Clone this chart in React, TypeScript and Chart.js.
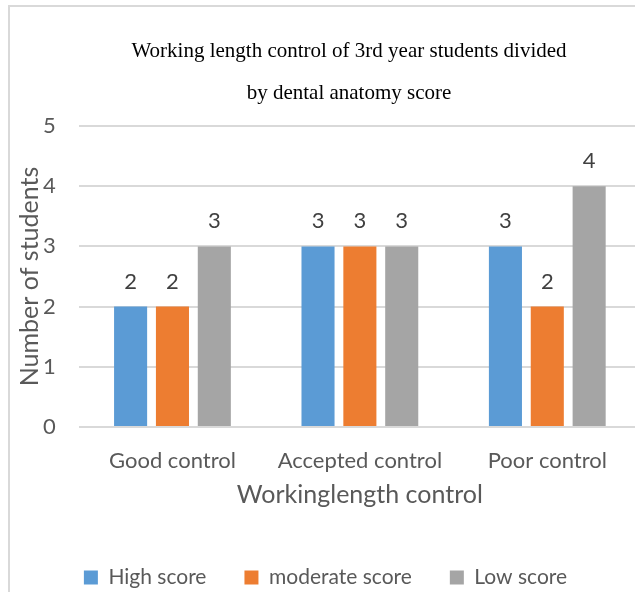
import React, { useEffect, useRef } from "react";
import { Chart, registerables } from "chart.js";

Chart.register(...registerables);

const categories = ["Good control", "Accepted control", "Poor control"];
const seriesNames = ["High score", "moderate score", "Low score"];
const highScore = [2, 3, 3];
const moderateScore = [2, 3, 2];
const lowScore = [3, 3, 4];
const seriesColors = ["#5B9BD5", "#ED7D31", "#A5A5A5"];
const yMin = 0;
const yMax = 5;
const yStep = 1;
const titleLines = [
  "Working length control of 3rd year students divided",
  "by dental anatomy score",
];
const xAxisTitle = "Workinglength control";
const yAxisTitle = "Number of students";

const FONT = "Lato, 'Noto Sans', sans-serif";
const TEXT = "#595959";

const titlePlugin = {
  id: "twoLineTitle",
  afterDraw(chart: any) {
    const ctx = chart.ctx;
    ctx.save();
    ctx.font = "21px 'Liberation Serif', 'Times New Roman', serif";
    ctx.fillStyle = "#000000";
    ctx.textAlign = "center";
    ctx.textBaseline = "alphabetic";
    titleLines.forEach((t, i) => ctx.fillText(t, 349, 57 + i * 42));
    ctx.restore();
  },
};

const valueLabelPlugin = {
  id: "valueLabels",
  afterDatasetsDraw(chart: any) {
    const ctx = chart.ctx;
    ctx.save();
    ctx.font = `22px ${FONT}`;
    ctx.fillStyle = "#404040";
    ctx.textAlign = "center";
    ctx.textBaseline = "alphabetic";
    chart.data.datasets.forEach((ds: any, di: number) => {
      const meta = chart.getDatasetMeta(di);
      meta.data.forEach((bar: any, i: number) => {
        ctx.fillText(String(ds.data[i]), bar.x, bar.y - 18);
      });
    });
    ctx.restore();
  },
};

export default function App() {
  const ref = useRef<HTMLCanvasElement | null>(null);

  useEffect(() => {
    if (!ref.current) return;
    const values = [highScore, moderateScore, lowScore];
    const chart = new Chart(ref.current, {
      type: "bar",
      data: {
        labels: categories,
        datasets: seriesNames.map((name, i) => ({
          label: name,
          data: values[i],
          backgroundColor: seriesColors[i],
          borderWidth: 0,
          barPercentage: 0.79,
          categoryPercentage: 0.67,
        })),
      },
      options: {
        responsive: false,
        animation: false,
        layout: { padding: { left: 10, right: 19, top: 126, bottom: 0 } },
        plugins: {
          title: { display: false },
          tooltip: { enabled: false },
          legend: {
            position: "bottom",
            labels: {
              boxWidth: 14,
              boxHeight: 14,
              padding: 38,
              color: TEXT,
              font: { family: FONT, size: 21 },
            },
          },
        },
        scales: {
          x: {
            grid: { display: false },
            border: { display: false },
            ticks: {
              color: TEXT,
              font: { family: FONT, size: 22 },
              padding: 13,
              maxRotation: 0,
            },
            title: {
              display: true,
              text: xAxisTitle,
              color: TEXT,
              font: { family: FONT, size: 25 },
              padding: { top: 0, bottom: 18.7 },
            },
            afterFit(s: any) {
              s.height = 102;
            },
          },
          y: {
            min: yMin,
            max: yMax,
            ticks: {
              stepSize: yStep,
              color: TEXT,
              font: { family: FONT, size: 22 },
              padding: 23,
            },
            grid: { color: "#d9d9d9", lineWidth: 2, drawTicks: false },
            border: { display: false },
            title: {
              display: true,
              text: yAxisTitle,
              color: TEXT,
              font: { family: FONT, size: 25 },
              padding: { top: 5, bottom: 0 },
            },
            afterFit(s: any) {
              s.width = 68.75;
            },
          },
        },
      },
      plugins: [titlePlugin, valueLabelPlugin],
    });
    return () => chart.destroy();
  }, []);

  return (
    <div
      style={{
        position: "fixed",
        left: 0,
        top: 0,
        width: 635,
        height: 592,
        overflow: "hidden",
        background: "#ffffff",
      }}
    >
      <div
        style={{
          position: "absolute",
          left: 8,
          top: 5,
          width: 800,
          height: 800,
          borderLeft: "2px solid #d9d9d9",
          borderTop: "2px solid #d9d9d9",
        }}
      />
      <canvas
        ref={ref}
        width={660}
        height={598}
        style={{ position: "absolute", left: 0, top: 0, display: "block" }}
      />
    </div>
  );
}
